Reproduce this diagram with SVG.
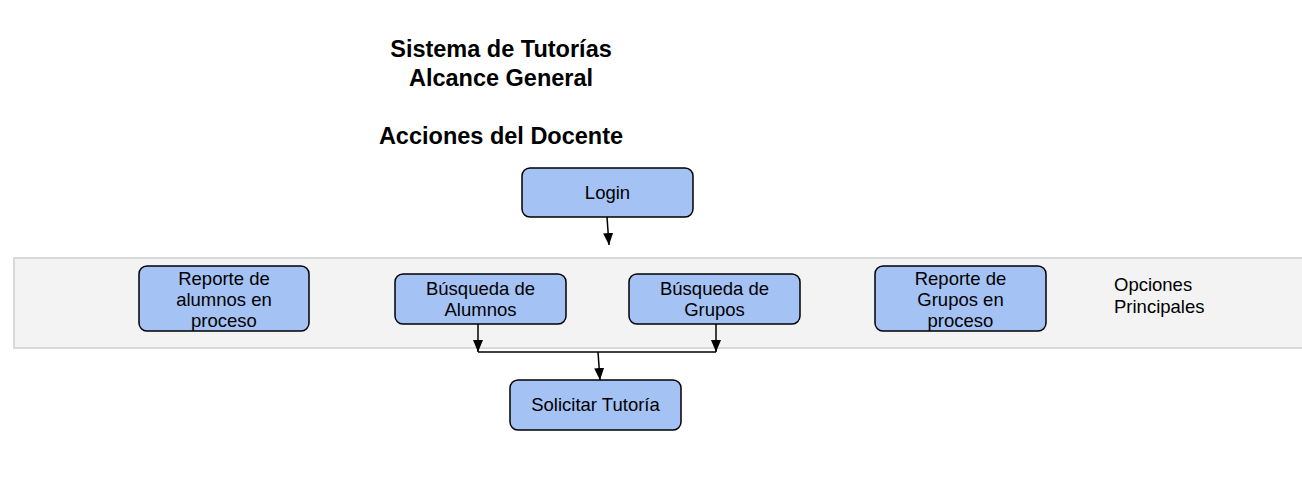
<svg xmlns="http://www.w3.org/2000/svg" width="1302" height="492" viewBox="0 0 1302 492">
<style>
.title{font-family:"Liberation Sans",Arial,sans-serif;font-size:23.5px;font-weight:bold;fill:#000;text-anchor:middle}
.node rect{fill:#a4c2f4;stroke:#000;stroke-width:1.5}
.node text{font-family:"Liberation Sans",Arial,sans-serif;font-size:18.5px;fill:#000;text-anchor:middle}
.lbl{font-family:"Liberation Sans",Arial,sans-serif;font-size:18.5px;fill:#000}
.conn{fill:none;stroke:#000;stroke-width:1.5}
</style>
<defs>
<marker id="arr" viewBox="0 0 12 12" refX="12" refY="6" markerWidth="12" markerHeight="12" markerUnits="userSpaceOnUse" orient="auto">
<path d="M0,1 L12,6 L0,11 z" fill="#000"/>
</marker>
</defs>
<rect width="1302" height="492" fill="#fff"/>
<g id="band">
<rect x="14" y="258" width="1300" height="90" fill="#f3f3f3" stroke="#d9d9d9" stroke-width="2"/>
<text class="lbl" x="1114" y="291">Opciones</text>
<text class="lbl" x="1114" y="313">Principales</text>
</g>
<g id="titles">
<text class="title" x="501" y="57">Sistema de Tutorías</text>
<text class="title" x="501" y="86">Alcance General</text>
<text class="title" x="501" y="144">Acciones del Docente</text>
</g>
<g id="connectors">
<line class="conn" x1="607" y1="217" x2="609" y2="245" marker-end="url(#arr)"/>
<line class="conn" x1="478" y1="324" x2="478" y2="352" marker-end="url(#arr)"/>
<line class="conn" x1="716" y1="324" x2="716" y2="352" marker-end="url(#arr)"/>
<polyline class="conn" points="478,352 716,352"/>
<line class="conn" x1="598" y1="352" x2="600" y2="380" marker-end="url(#arr)"/>
</g>
<g id="login" class="node">
<rect x="522" y="168" width="171" height="49" rx="8"/>
<text x="607.5" y="199">Login</text>
</g>
<g id="reporte-alumnos" class="node">
<rect x="139" y="266" width="170" height="65" rx="8"/>
<text x="224" y="285">Reporte de</text>
<text x="224" y="306">alumnos en</text>
<text x="224" y="327">proceso</text>
</g>
<g id="busqueda-alumnos" class="node">
<rect x="395" y="274" width="171" height="50" rx="8"/>
<text x="480.5" y="295">Búsqueda de</text>
<text x="480.5" y="316">Alumnos</text>
</g>
<g id="busqueda-grupos" class="node">
<rect x="629" y="274" width="171" height="50" rx="8"/>
<text x="714.5" y="295">Búsqueda de</text>
<text x="714.5" y="316">Grupos</text>
</g>
<g id="reporte-grupos" class="node">
<rect x="875" y="266" width="171" height="65" rx="8"/>
<text x="960.5" y="285">Reporte de</text>
<text x="960.5" y="306">Grupos en</text>
<text x="960.5" y="327">proceso</text>
</g>
<g id="solicitar" class="node">
<rect x="510" y="380" width="171" height="50" rx="8"/>
<text x="595.5" y="411">Solicitar Tutoría</text>
</g>
</svg>
